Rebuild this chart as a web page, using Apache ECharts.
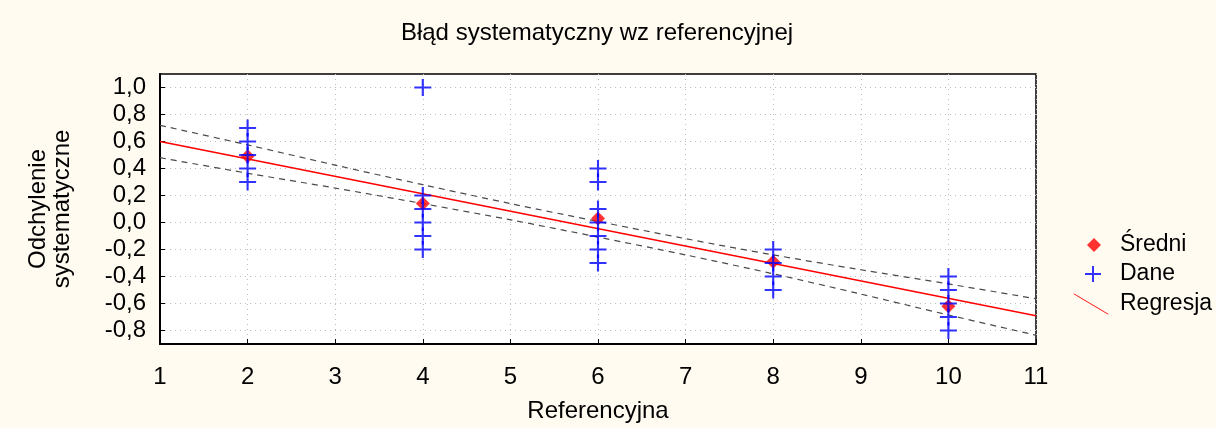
<!DOCTYPE html>
<html>
<head>
<meta charset="utf-8">
<script src="https://cdn.jsdelivr.net/npm/echarts@6/dist/echarts.min.js"></script>
<style>
  html, body { margin: 0; padding: 0; background: #fffbf0; }
  #chart { width: 1216px; height: 428px; }
</style>
</head>
<body>
<div id="chart"></div>
<script>
/************        Błąd systematyczny wz referencyjnej        ************/

// raw measurements (Dane)
var daneX = [2, 2, 2, 2, 2,
             4, 4, 4, 4, 4, 4,
             6, 6, 6, 6, 6, 6, 6,
             8, 8, 8, 8,
             10, 10, 10, 10, 10];
var daneY = [0.7, 0.6, 0.5, 0.4, 0.3,
             1.0, 0.2, 0.1, 0.0, -0.1, -0.2,
             0.4, 0.3, 0.1, 0.0, -0.1, -0.2, -0.3,
             -0.2, -0.3, -0.4, -0.5,
             -0.4, -0.5, -0.6, -0.7, -0.8];

// means per reference level (Średni)
var meanX = [2, 4, 6, 8, 10];
var meanY = [0.49, 0.14, 0.03, -0.29, -0.62];

// regression line and its confidence band
var regX = [1, 11];
var regY = [0.6, -0.69];
var bandX = [1, 2, 3, 4, 5, 6, 7, 8, 9, 10, 11];
var bandUpper = [0.72, 0.575, 0.425, 0.28, 0.14, 0.008, -0.12, -0.24, -0.35, -0.455, -0.565];
var bandLower = [0.48, 0.365, 0.255, 0.14, 0.02, -0.108, -0.24, -0.38, -0.53, -0.685, -0.835];

var yTicks = [-0.8, -0.6, -0.4, -0.2, 0.0, 0.2, 0.4, 0.6, 0.8, 1.0];

function pairs(xs, ys) {
    return xs.map(function (x, i) { return [x, ys[i]]; });
}

var FONT = 'Liberation Sans, Arial, sans-serif';
var FS = 24;
var plusPath = 'path://M7,0 L9,0 L9,7 L16,7 L16,9 L9,9 L9,16 L7,16 L7,9 L0,9 L0,7 L7,7 Z';
var slashPath = 'path://M0,0 L1.5,0 L35,20 L33.5,20 Z';

var dom = document.getElementById('chart');
var myChart = echarts.init(dom, null, { renderer: 'canvas' });

var legendText = { fontFamily: FONT, fontSize: 23, color: '#000', lineHeight: 26 };

option = {
    backgroundColor: '#fffbf0',
    animation: false,
    title: {
        text: 'Błąd systematyczny wz referencyjnej',
        left: 592,
        top: 16,
        textAlign: 'center',
        textStyle: { fontFamily: FONT, fontSize: FS, fontWeight: 'normal', color: '#000' }
    },
    legend: [
        {
            orient: 'vertical', left: 1082, top: 227,
            itemWidth: 14, itemHeight: 14,
            data: [{ name: 'Średni', icon: 'diamond' }],
            textStyle: Object.assign({ padding: [0, 0, 0, 14] }, legendText),
            selectedMode: false
        },
        {
            orient: 'vertical', left: 1080, top: 256,
            itemWidth: 16, itemHeight: 16,
            data: [{ name: 'Dane', icon: plusPath }],
            textStyle: Object.assign({ padding: [0, 0, 0, 14] }, legendText),
            selectedMode: false
        },
        {
            orient: 'vertical', left: 1068, top: 286,
            itemWidth: 36, itemHeight: 21,
            data: [{ name: 'Regresja', icon: slashPath, itemStyle: { color: '#ff0000' } }],
            textStyle: Object.assign({ padding: [0, 0, 0, 6] }, legendText),
            selectedMode: false
        }
    ],
    grid: {
        left: 160,
        right: 180,
        top: 74,
        bottom: 83,
        show: true,
        backgroundColor: '#ffffff',
        borderColor: '#000',
        borderWidth: 1.5
    },
    xAxis: {
        type: 'value',
        min: 1,
        max: 11,
        interval: 1,
        name: 'Referencyjna',
        nameLocation: 'middle',
        nameGap: 55,
        nameTextStyle: { fontFamily: FONT, fontSize: FS, color: '#000' },
        axisLine: { onZero: false, lineStyle: { color: '#000', width: 2 } },
        axisTick: { inside: true, length: 5, lineStyle: { color: '#000' } },
        axisLabel: { margin: 21, fontFamily: FONT, fontSize: FS, color: '#000' },
        splitLine: { show: true, lineStyle: { color: '#bdbdbd', type: [1, 4], width: 1 } }
    },
    yAxis: {
        type: 'value',
        min: -0.9,
        max: 1.1,
        name: 'Odchylenie\nsystematyczne',
        nameLocation: 'middle',
        nameGap: 86,
        nameTextStyle: { fontFamily: FONT, fontSize: FS, color: '#000', lineHeight: 24 },
        axisLine: { onZero: false, lineStyle: { color: '#000', width: 2 } },
        axisTick: { inside: true, length: 5, customValues: yTicks, lineStyle: { color: '#000' } },
        axisLabel: {
            margin: 14, fontFamily: FONT, fontSize: FS, color: '#000',
            customValues: yTicks,
            formatter: function (v) {
                var s = (Math.abs(v) < 1e-9 ? 0 : v).toFixed(1);
                return s.replace('.', ',');
            }
        },
        splitLine: { show: true, lineStyle: { color: '#bdbdbd', type: [1, 4], width: 1 } }
    },
    series: [
        {
            name: 'upper',
            type: 'line',
            data: pairs(bandX, bandUpper),
            smooth: 0.3,
            showSymbol: false,
            silent: true,
            lineStyle: { color: '#4a4a4a', width: 1.2, type: [6, 5] },
            z: 2
        },
        {
            name: 'lower',
            type: 'line',
            data: pairs(bandX, bandLower),
            smooth: 0.3,
            showSymbol: false,
            silent: true,
            lineStyle: { color: '#4a4a4a', width: 1.2, type: [6, 5] },
            z: 2
        },
        {
            name: 'Regresja',
            type: 'line',
            data: pairs(regX, regY),
            showSymbol: false,
            lineStyle: { color: '#ff0000', width: 1.5 },
            itemStyle: { color: '#ff0000' },
            z: 3
        },
        {
            name: 'Średni',
            type: 'scatter',
            data: pairs(meanX, meanY),
            symbol: 'diamond',
            symbolSize: 14,
            itemStyle: { color: '#ff0000' },
            z: 4
        },
        {
            name: 'Dane',
            type: 'scatter',
            data: pairs(daneX, daneY),
            symbol: plusPath,
            symbolSize: 17,
            itemStyle: { color: '#0000ff' },
            z: 5
        }
    ]
};

myChart.setOption(option);
</script>
</body>
</html>
